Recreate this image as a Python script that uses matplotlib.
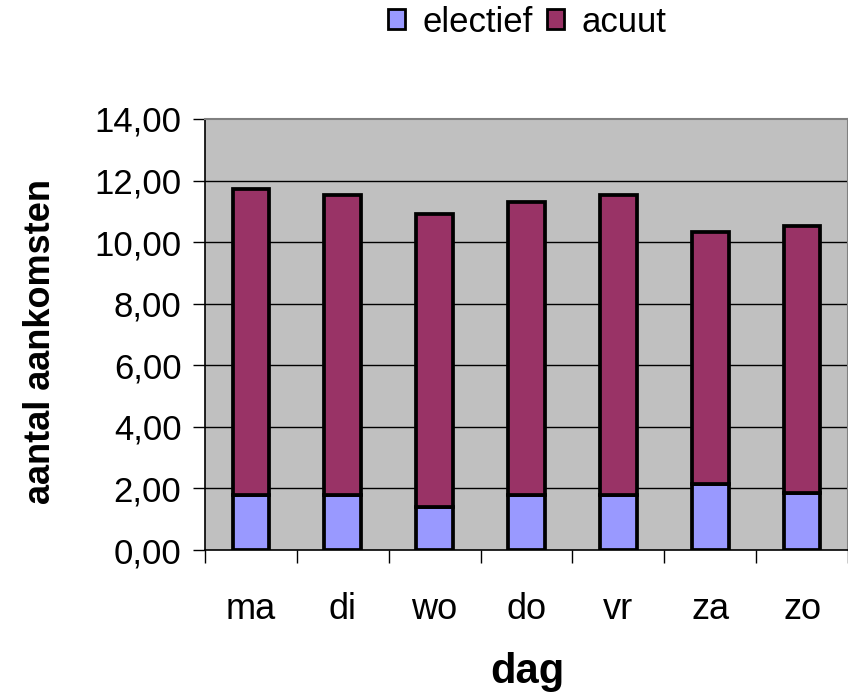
import matplotlib.pyplot as plt
from matplotlib.patches import Patch

plt.rcParams['font.family'] = ['Liberation Sans', 'DejaVu Sans']

# Data
days = ['ma', 'di', 'wo', 'do', 'vr', 'za', 'zo']
electief = [1.79, 1.79, 1.39, 1.79, 1.79, 2.14, 1.86]
totaal = [11.72, 11.53, 10.93, 11.32, 11.53, 10.33, 10.53]
acuut = [t - e for t, e in zip(totaal, electief)]
yticks = [0, 2, 4, 6, 8, 10, 12, 14]

col_el = '#9999FF'
col_ac = '#993366'

fig = plt.figure(figsize=(8.48, 6.95), dpi=100)
ax = fig.add_axes([205 / 848, 145 / 695, 643 / 848, 431 / 695])
ax.set_facecolor('#C0C0C0')

x = list(range(len(days)))
ax.bar(x, electief, width=0.4, color=col_el, edgecolor='black', linewidth=2.7, zorder=3)
ax.bar(x, acuut, width=0.4, bottom=electief, color=col_ac, edgecolor='black',
       linewidth=2.7, zorder=3)

# Axes limits and grid
ax.set_xlim(-0.5, len(days) - 0.5)
ax.set_ylim(0, 14)
for y in yticks[1:-1]:
    ax.axhline(y, color='black', linewidth=1.0, zorder=1)

# Y ticks
ax.set_yticks(yticks)
ax.set_yticklabels([f'{v:.2f}'.replace('.', ',') for v in yticks], fontsize=25)
ax.tick_params(axis='y', direction='out', length=9, width=1, pad=8, colors='black')

# X ticks: labels at centres, marks at boundaries
ax.set_xticks(x)
ax.set_xticklabels(days, fontsize=26)
ax.tick_params(axis='x', which='major', length=0, pad=30)
ax.set_xticks([i - 0.5 for i in range(len(days) + 1)], minor=True)
ax.tick_params(axis='x', which='minor', direction='out', length=9, width=1, color='black')

for side in ['top', 'right']:
    ax.spines[side].set_color('#808080')
    ax.spines[side].set_linewidth(1.5)
ax.spines['left'].set_color('black')
ax.spines['bottom'].set_color('black')
ax.spines['left'].set_linewidth(1.2)
ax.spines['bottom'].set_linewidth(1.2)

# Axis titles
fig.text(41 / 848, 1 - 341 / 695, 'aantal aankomsten', rotation=90, ha='center', va='center',
         fontsize=26, fontweight='bold')
fig.text(527 / 848, 12 / 695, 'dag', ha='center', va='baseline', fontsize=30, fontweight='bold')

# Legend
handles = [Patch(facecolor=col_el, edgecolor='black', linewidth=2),
           Patch(facecolor=col_ac, edgecolor='black', linewidth=2)]
fig.legend(handles, ['electief', 'acuut'], loc='center', bbox_to_anchor=(527 / 848, 1 - 22 / 695),
           ncol=2, frameon=False, fontsize=25, handlelength=0.5, handleheight=0.5,
           handletextpad=0.5, columnspacing=0.4, borderaxespad=0)

fig.savefig('out.png', dpi=100)
